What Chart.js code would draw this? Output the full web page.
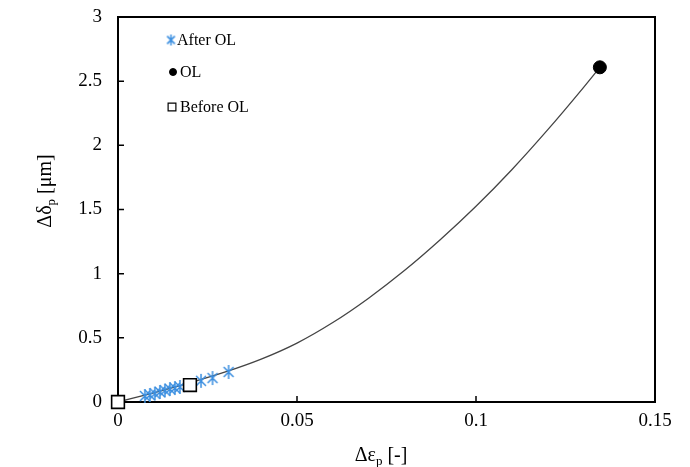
<!DOCTYPE html>
<html>
<head>
<meta charset="utf-8">
<script src="https://cdn.jsdelivr.net/npm/chart.js@4/dist/chart.umd.min.js"></script>
<style>
  body { margin: 0; background: #fff; }
  #wrap { width: 690px; height: 467px; }
</style>
</head>
<body>
<div id="wrap"><canvas id="chart" width="690" height="467"></canvas></div>
<script>
// fitted curve
const curveX = [0, 0.01, 0.02, 0.03, 0.04, 0.05, 0.06, 0.07, 0.08, 0.09, 0.10, 0.11, 0.12, 0.13, 0.1346];
const curveY = [0, 0.072, 0.149, 0.234, 0.334, 0.459, 0.619, 0.809, 1.024, 1.264, 1.525, 1.81, 2.12, 2.45, 2.608];

// measured points
const afterX = [0.0075, 0.0089, 0.0103, 0.0117, 0.0131, 0.0145, 0.0159, 0.0173, 0.0232, 0.0264, 0.0309];
const afterY = [0.047, 0.055, 0.066, 0.078, 0.090, 0.101, 0.109, 0.117, 0.165, 0.187, 0.234];
const olX = [0.1346];
const olY = [2.608];
const beforeX = [0, 0.0201];
const beforeY = [0, 0.132];

const xTicks = [0, 0.05, 0.1, 0.15];
const yTicks = [0, 0.5, 1, 1.5, 2, 2.5, 3];

const SERIF = "'Liberation Serif', 'Times New Roman', serif";
const BLUE = '#3a8ee0';

function pts(xs, ys) {
    return xs.map((x, i) => ({ x: x, y: ys[i] }));
}

// excel style asterisk marker
function makeStar(size, lw) {
    const c = document.createElement('canvas');
    c.width = size; c.height = size;
    const g = c.getContext('2d');
    const m = size / 2, r = size / 2 - 1;
    g.strokeStyle = BLUE;
    g.lineWidth = lw;
    g.beginPath();
    g.moveTo(m, m - r); g.lineTo(m, m + r);
    const d = r * Math.SQRT1_2;
    g.moveTo(m - d, m - d); g.lineTo(m + d, m + d);
    g.moveTo(m - d, m + d); g.lineTo(m + d, m - d);
    g.stroke();
    return c;
}
const starBig = makeStar(16, 1.5);
const starSmall = makeStar(13, 1.5);

// box round plot area + inside tick marks
const framePlugin = {
    id: 'framePlugin',
    beforeDatasetsDraw(chart) {
        const { ctx, chartArea: a, scales } = chart;
        ctx.save();
        ctx.strokeStyle = '#000';
        ctx.lineWidth = 2;
        ctx.strokeRect(a.left, a.top, a.right - a.left, a.bottom - a.top);
        ctx.lineWidth = 1.5;
        ctx.beginPath();
        xTicks.forEach(v => {
            const px = scales.x.getPixelForValue(v);
            ctx.moveTo(px, a.bottom); ctx.lineTo(px, a.bottom - 6);
        });
        yTicks.forEach(v => {
            const py = scales.y.getPixelForValue(v);
            ctx.moveTo(a.left, py); ctx.lineTo(a.left + 6, py);
        });
        ctx.stroke();
        ctx.restore();
    },
    afterDraw(chart) {
        const { ctx } = chart;
        ctx.save();
        ctx.fillStyle = '#000';
        // axis titles with subscripts
        const drawTitle = (parts, cx, cy, rot) => {
            ctx.save();
            ctx.translate(cx, cy);
            ctx.rotate(rot);
            let w = 0;
            parts.forEach(p => { ctx.font = p.size + 'px ' + SERIF; w += ctx.measureText(p.t).width; });
            let x = -w / 2;
            ctx.textBaseline = 'alphabetic';
            parts.forEach(p => {
                ctx.font = p.size + 'px ' + SERIF;
                ctx.fillText(p.t, x, 7 + (p.dy || 0));
                x += ctx.measureText(p.t).width;
            });
            ctx.restore();
        };
        drawTitle([{ t: 'Δε', size: 20 }, { t: 'p', size: 13, dy: 4 }, { t: ' [-]', size: 20 }], 381, 454, 0);
        drawTitle([{ t: 'Δδ', size: 20 }, { t: 'p', size: 13, dy: 4 }, { t: ' [μm]', size: 20 }], 44, 191, -Math.PI / 2);

        // legend, top left inside plot
        const h = Chart.helpers;
        ctx.font = '16px ' + SERIF;
        ctx.textBaseline = 'middle';
        h.drawPoint(ctx, { pointStyle: starSmall, radius: 6, borderWidth: 0 }, 171, 40);
        ctx.fillStyle = '#000';
        ctx.fillText('After OL', 177, 41);
        ctx.fillStyle = '#000';
        ctx.strokeStyle = '#000';
        ctx.lineWidth = 1;
        h.drawPoint(ctx, { pointStyle: 'circle', radius: 3.5, borderWidth: 1 }, 173, 72);
        ctx.fillText('OL', 180, 73);
        ctx.fillStyle = '#fff';
        ctx.lineWidth = 1.2;
        h.drawPoint(ctx, { pointStyle: 'rect', radius: 5.5, borderWidth: 1.2 }, 172, 107);
        ctx.fillStyle = '#000';
        ctx.fillText('Before OL', 180, 108);
        ctx.restore();
    }
};

const fmt = v => String(Number(v.toFixed(2)));

new Chart(document.getElementById('chart'), {
    type: 'scatter',
    data: {
        datasets: [
            { label: 'curve', data: pts(curveX, curveY), showLine: true, borderColor: '#444', borderWidth: 1.3,
              pointRadius: 0, cubicInterpolationMode: 'monotone', order: 3, clip: false },
            { label: 'After OL', data: pts(afterX, afterY), pointStyle: starBig, pointRadius: 8, order: 2, clip: false },
            { label: 'Before OL', data: pts(beforeX, beforeY), pointStyle: 'rect', pointRadius: 9, borderWidth: 1.6,
              borderColor: '#000', backgroundColor: '#fff', order: 1, clip: false },
            { label: 'OL', data: pts(olX, olY), pointStyle: 'circle', pointRadius: 6.5, borderWidth: 1,
              borderColor: '#000', backgroundColor: '#000', order: 0, clip: false }
        ]
    },
    options: {
        responsive: false,
        animation: false,
        events: [],
        layout: { padding: { left: 30, right: 35, top: 17, bottom: 0 } },
        plugins: { legend: { display: false }, tooltip: { enabled: false } },
        scales: {
            x: {
                type: 'linear', min: 0, max: 0.15,
                afterBuildTicks: s => { s.ticks = xTicks.map(v => ({ value: v })); },
                afterFit: s => { s.height = 65; s.paddingLeft = 0; s.paddingRight = 0; },
                grid: { display: false, drawTicks: false },
                border: { display: false },
                ticks: { padding: 8, color: '#000', font: { family: SERIF, size: 19 }, callback: fmt, maxRotation: 0 }
            },
            y: {
                type: 'linear', min: 0, max: 3,
                afterBuildTicks: s => { s.ticks = yTicks.map(v => ({ value: v })); },
                afterFit: s => { s.width = 88; s.paddingTop = 0; s.paddingBottom = 0; },
                grid: { display: false, drawTicks: false },
                border: { display: false },
                ticks: { padding: 16, color: '#000', font: { family: SERIF, size: 19 }, callback: fmt }
            }
        }
    },
    plugins: [framePlugin]
});
</script>
</body>
</html>
